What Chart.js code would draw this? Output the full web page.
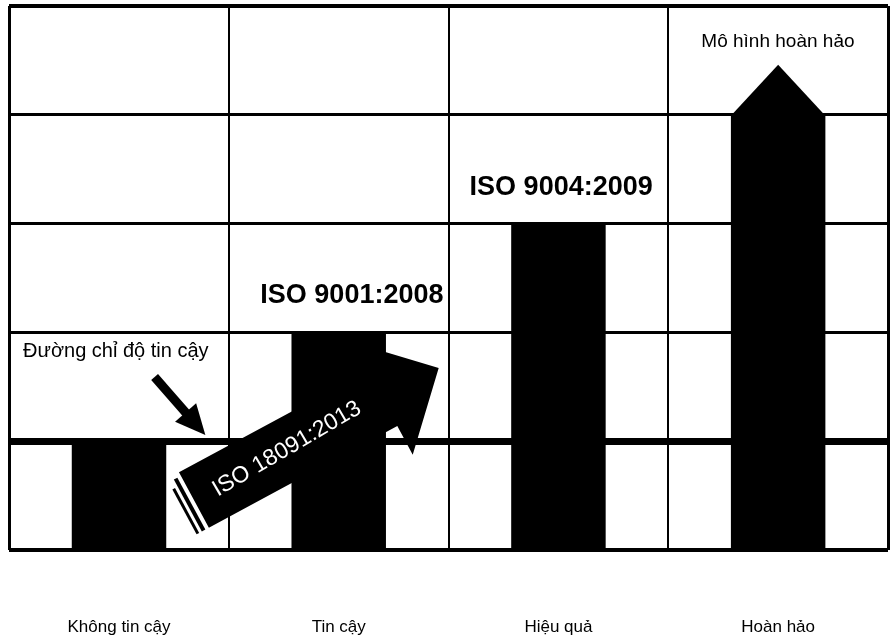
<!DOCTYPE html>
<html>
<head>
<meta charset="utf-8">
<script src="https://cdn.jsdelivr.net/npm/chart.js@4.4.1/dist/chart.umd.min.js"></script>
<style>
  html, body { margin: 0; padding: 0; background: #fff; }
  canvas { display: block; }
</style>
</head>
<body>
<canvas id="chart" width="890" height="642"></canvas>
<script>
// Maturity levels of a quality system
const categories = ['Không tin cậy', 'Tin cậy', 'Hiệu quả', 'Hoàn hảo'];
const levels = [1, 2, 3, 4];
const levelTicks = [0, 1, 2, 3, 4, 5];
const standardLabels = ['ISO 9001:2008', 'ISO 9004:2009', 'ISO 18091:2013'];
const noteLabels = ['Đường chỉ độ tin cậy', 'Mô hình hoàn hảo'];

const FONT = '"Liberation Sans", Arial, sans-serif';

// data-space -> pixel helper (x: category index, y: level)
function toPx(chart, i, v) {
  return [chart.scales.x.getPixelForValue(i), chart.scales.y.getPixelForValue(v)];
}

const decorations = {
  id: 'decorations',
  afterDatasetsDraw(chart) {
    const ctx = chart.ctx;
    const meta = chart.getDatasetMeta(0);
    ctx.save();
    ctx.fillStyle = '#000';
    ctx.strokeStyle = '#000';

    // arrow head crowning the last bar
    const last = meta.data[levels.length - 1];
    const half = last.width / 2;
    const tipY = chart.scales.y.getPixelForValue(levels[levels.length - 1] + 0.46);
    ctx.beginPath();
    ctx.moveTo(last.x - half, last.y + 1);
    ctx.lineTo(last.x, tipY);
    ctx.lineTo(last.x + half, last.y + 1);
    ctx.closePath();
    ctx.fill();

    // broad diagonal arrow from the first to the second level
    const [tx, ty] = toPx(chart, 0.341, 0.46);
    const [hx, hy] = toPx(chart, 1.455, 1.673);
    const len = Math.hypot(hx - tx, hy - ty);
    const ang = Math.atan2(hy - ty, hx - tx);
    const bw = 31.5, headLen = 64, headHalf = 64;
    ctx.save();
    ctx.translate(tx, ty);
    ctx.rotate(ang);
    ctx.beginPath();
    ctx.moveTo(0, -bw);
    ctx.lineTo(len - headLen, -bw);
    ctx.lineTo(len - headLen, -headHalf);
    ctx.lineTo(len, 0);
    ctx.lineTo(len - headLen, headHalf);
    ctx.lineTo(len - headLen, bw);
    ctx.lineTo(0, bw);
    ctx.closePath();
    ctx.fill();
    // striped tail
    ctx.fillRect(-8, -bw + 4, 4, 2 * bw - 4);
    ctx.fillRect(-14, -bw + 12, 3, 2 * bw - 12);
    // label along the arrow
    ctx.rotate(-0.035);
    ctx.fillStyle = '#fff';
    ctx.font = '23px ' + FONT;
    ctx.textAlign = 'center';
    ctx.textBaseline = 'middle';
    ctx.fillText(standardLabels[2], 106, 3);
    ctx.restore();

    // small pointer to the reliability line
    const [ax, ay] = toPx(chart, 0.162, 1.59);
    const [bx, by] = toPx(chart, 0.393, 1.057);
    const a2 = Math.atan2(by - ay, bx - ax);
    const l2 = Math.hypot(bx - ax, by - ay);
    ctx.save();
    ctx.translate(ax, ay);
    ctx.rotate(a2);
    ctx.fillStyle = '#000';
    ctx.fillRect(0, -4.5, l2 - 26, 9);
    ctx.beginPath();
    ctx.moveTo(l2 - 30, -14);
    ctx.lineTo(l2, 0);
    ctx.lineTo(l2 - 30, 14);
    ctx.closePath();
    ctx.fill();
    ctx.restore();

    // text notes
    ctx.fillStyle = '#000';
    ctx.textBaseline = 'alphabetic';
    ctx.textAlign = 'center';
    ctx.font = 'bold 27px ' + FONT;
    let p = toPx(chart, 1.06, 2.27);
    ctx.fillText(standardLabels[0], p[0], p[1]);
    p = toPx(chart, 2.0125, 3.263);
    ctx.fillText(standardLabels[1], p[0], p[1]);

    ctx.font = '19px ' + FONT;
    p = toPx(chart, 2.999, 4.623);
    ctx.fillText(noteLabels[1], p[0], p[1]);
    ctx.font = '20px ' + FONT;
    ctx.textAlign = 'left';
    p = toPx(chart, -0.4365, 1.774);
    ctx.fillText(noteLabels[0], p[0], p[1]);

    ctx.restore();
  }
};

new Chart(document.getElementById('chart'), {
  type: 'bar',
  data: {
    labels: categories,
    datasets: [{
      data: levels,
      backgroundColor: '#000',
      borderWidth: 0,
      barPercentage: 0.43,
      categoryPercentage: 1
    }]
  },
  options: {
    responsive: false,
    animation: false,
    layout: { padding: { left: 4, right: 2, top: 6, bottom: 5 } },
    plugins: { legend: { display: false }, tooltip: { enabled: false } },
    scales: {
      x: {
        offset: true,
        border: { display: false },
        afterFit: s => { s.height = 87; },
        grid: {
          offset: true,
          drawTicks: false,
          color: '#000',
          lineWidth: c => (c.index === 0 || c.index === undefined) ? 3 : 2
        },
        ticks: {
          padding: 67,
          color: '#000',
          font: { family: FONT, size: 17 }
        }
      },
      y: {
        min: levelTicks[0],
        max: levelTicks[levelTicks.length - 1],
        border: { display: false },
        afterBuildTicks: s => { s.ticks = levelTicks.map(v => ({ value: v })); },
        grid: {
          drawTicks: false,
          color: '#000',
          lineWidth: c => {
            const v = c.tick ? c.tick.value : 0;
            if (v === 1) return 7;
            if (v === 0 || v === 5) return 4;
            return 3;
          }
        },
        ticks: { display: false }
      }
    }
  },
  plugins: [decorations]
});
</script>
</body>
</html>
